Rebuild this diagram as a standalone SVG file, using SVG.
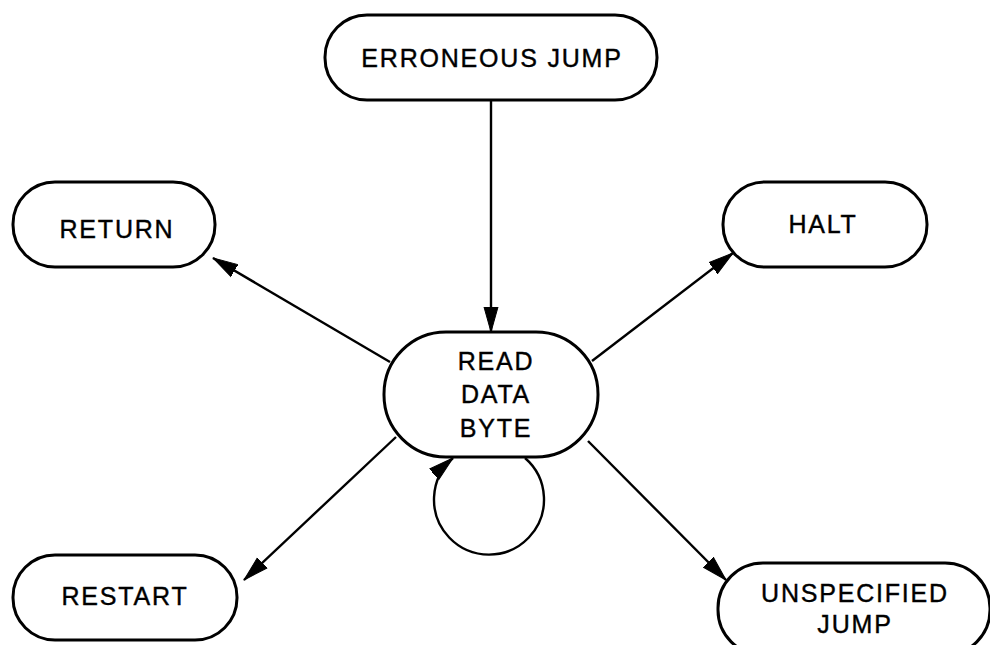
<svg xmlns="http://www.w3.org/2000/svg" width="990" height="645" viewBox="0 0 990 645">
<style>
.node rect{fill:#fff;stroke:#000;stroke-width:3}
.node text{font-family:"Liberation Sans",Arial,sans-serif;font-size:25px;letter-spacing:1.8px;text-anchor:middle;fill:#000;stroke:#000;stroke-width:0.4}
.edge{fill:none;stroke:#000;stroke-width:2.4}
</style>
<defs>
<marker id="ah" markerUnits="userSpaceOnUse" markerWidth="30" markerHeight="20" refX="25" refY="8" orient="auto">
<path d="M0,1 L25,8 L0,15 Z" fill="#000" stroke="#000" stroke-width="1" stroke-linejoin="round"/>
</marker>
</defs>
<rect width="990" height="645" fill="#fff"/>
<g id="connectors">
<line class="edge" x1="491" y1="100" x2="491" y2="332" marker-end="url(#ah)"/>
<line class="edge" x1="390" y1="362" x2="213" y2="258" marker-end="url(#ah)"/>
<line class="edge" x1="592" y1="361" x2="733" y2="253" marker-end="url(#ah)"/>
<line class="edge" x1="396" y1="437" x2="244" y2="580" marker-end="url(#ah)"/>
<line class="edge" x1="588" y1="441" x2="726" y2="580" marker-end="url(#ah)"/>
<path class="edge" d="M525,458 A55,55 0 1 1 453,458" marker-end="url(#ah)"/>
</g>
<g id="erroneous-jump" class="node">
<rect x="325" y="15" width="332" height="85" rx="42" ry="42"/>
<text x="492" y="67">ERRONEOUS JUMP</text>
</g>
<g id="return" class="node">
<rect x="13" y="182" width="202" height="85" rx="42" ry="42"/>
<text x="117" y="238">RETURN</text>
</g>
<g id="halt" class="node">
<rect x="723" y="182" width="204" height="85" rx="42" ry="42"/>
<text x="823" y="233">HALT</text>
</g>
<g id="read-data-byte" class="node">
<rect x="384" y="332" width="214" height="125" rx="62" ry="62"/>
<text x="496" y="370">READ</text>
<text x="496" y="403">DATA</text>
<text x="496" y="437">BYTE</text>
</g>
<g id="restart" class="node">
<rect x="13" y="555" width="224" height="85" rx="42" ry="42"/>
<text x="125" y="605">RESTART</text>
</g>
<g id="unspecified-jump" class="node">
<rect x="718" y="563" width="272" height="92" rx="45" ry="45"/>
<text x="855" y="602">UNSPECIFIED</text>
<text x="855" y="633">JUMP</text>
</g>
</svg>
